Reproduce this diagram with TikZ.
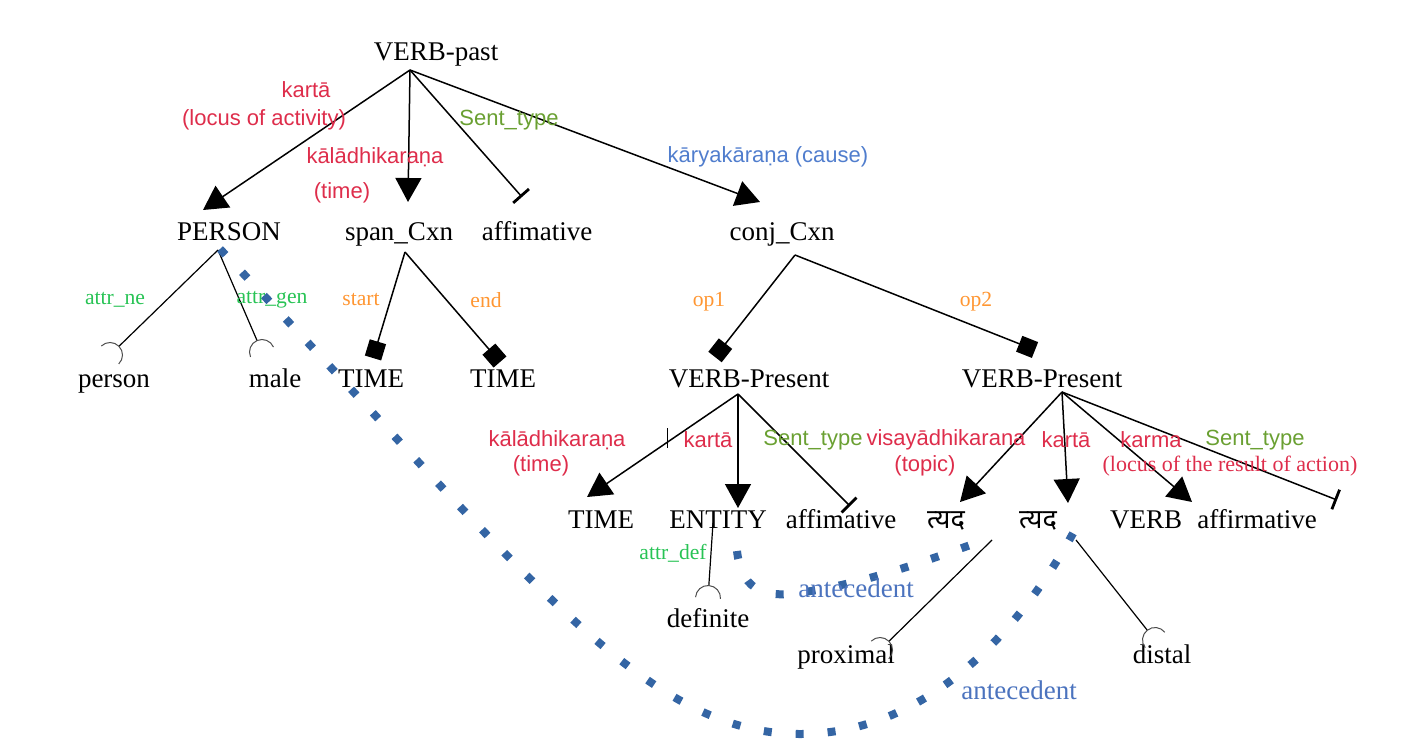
\documentclass[tikz,border=0pt]{standalone}
\usepackage{fontspec}
\setmainfont{Liberation Serif}
\setsansfont{Liberation Sans}
\newfontfamily\deva[Script=Devanagari]{Noto Sans}
\usetikzlibrary{arrows.meta,calc}
\definecolor{relred}{RGB}{222,45,75}
\definecolor{sentgreen}{RGB}{106,160,50}
\definecolor{attrgreen}{RGB}{40,195,85}
\definecolor{oporange}{RGB}{255,150,50}
\definecolor{causeblue}{RGB}{80,125,205}
\definecolor{antblue}{RGB}{75,115,190}
\definecolor{dotblue}{RGB}{52,101,164}
\tikzset{
	word/.style={font=\fontsize{13.5}{16}\selectfont, inner sep=0pt, anchor=base},
	rel/.style={font=\sffamily\fontsize{11}{13}\selectfont, inner sep=0pt, text=relred},
	relserif/.style={font=\fontsize{11}{13}\selectfont, inner sep=0pt, text=relred},
	senttype/.style={font=\sffamily\fontsize{11}{13}\selectfont, inner sep=0pt, text=sentgreen},
	cause/.style={font=\sffamily\fontsize{11}{13}\selectfont, inner sep=0pt, text=causeblue},
	attr/.style={font=\fontsize{10.8}{13}\selectfont, inner sep=0pt, text=attrgreen},
	oplabel/.style={font=\fontsize{10.8}{13}\selectfont, inner sep=0pt, text=oporange},
	antlabel/.style={font=\fontsize{13.5}{16}\selectfont, inner sep=0pt, text=antblue},
	link/.style={line width=0.75pt},
	arr/.style={link, -{Triangle[length=12pt,width=13pt]}},
	sq/.style={link, -{Square[length=8.5pt,width=8.5pt]}},
	tee/.style={link, -{Bar[width=10.5pt,line width=1.4pt]}},
	cup/.style={line width=0.6pt, -{Arc Barb[reversed,width=13pt,length=6.5pt,line width=0.5pt,color=black!70]}},
	coref/.style={dotblue, line width=4pt, dash pattern=on 4pt off 12pt}
}
\begin{document}
\begin{tikzpicture}[x=0.5pt, y=-0.5pt]
	\useasboundingbox (0,0) rectangle (1427,755);
	\foreach \name/\x/\y/\labl in {
		vpast/436/60/VERB-past,
		pers/229/240/PERSON, span/399/240/span\_Cxn, affa/537/240/affimative, conj/782/240/conj\_Cxn,
		persw/114/387/person, male/275/387/male, timea/371/387/TIME, timeb/503/387/TIME,
		vpresa/749/387/VERB-Present, vpresb/1042/387/VERB-Present,
		timec/601/528/TIME, entity/718/528/ENTITY, affb/841/528/affimative,
		tyada/946/528/{\deva त्यद}, tyadb/1038/528/{\deva त्यद}, verb/1146/528/VERB, affc/1257/528/affirmative,
		definite/708/627/definite, proximal/846/663/proximal, distal/1162/663/distal
	}
	{
		\node[word] (\name) at (\x,\y) {\labl};
	}
	\foreach \no/\sx/\sy/\nt/\ex/\ey in {
		vpast/-26/10/pers/-26/-30,
		vpast/-26/10/span/9/-38,
		vpast/-26/10/conj/-22/-38,
		vpresa/-11/7/timec/-14/-31,
		vpresa/-11/7/entity/20/-20,
		vpresb/20/5/tyada/14/-26,
		vpresb/20/5/tyadb/30/-25,
		vpresb/20/5/verb/46/-26
	}
	{
		\draw[arr] ($(\no.base)+(\sx,\sy)$) -- ($(\nt.base)+(\ex,\ey)$);
	}
	\foreach \no/\sx/\sy/\nt/\ex/\ey in {
		vpast/-26/10/affa/-15/-43,
		vpresa/-11/7/affb/9/-22,
		vpresb/20/5/affc/80/-28
	}
	{
		\draw[tee] ($(\no.base)+(\sx,\sy)$) -- ($(\nt.base)+(\ex,\ey)$);
	}
	\foreach \no/\sx/\sy/\nt/\ex/\ey in {
		span/6/12/timea/2/-29,
		span/6/12/timeb/-3/-25,
		conj/13/15/vpresa/-34/-30,
		conj/13/15/vpresb/-7/-37
	}
	{
		\draw[sq] ($(\no.base)+(\sx,\sy)$) -- ($(\nt.base)+(\ex,\ey)$);
	}
	\foreach \no/\sx/\sy/\nt/\ex/\ey in {
		pers/-11/10/persw/-4/-32,
		pers/-11/10/male/-13/-35,
		entity/-5/-5/definite/0/-29,
		tyada/46/12/proximal/34/-13,
		tyadb/38/12/distal/-7/-23
	}
	{
		\draw[cup] ($(\no.base)+(\sx,\sy)$) -- ($(\nt.base)+(\ex,\ey)$);
	}
	\path ($(vpresa.base)+(-11,7)$) -- ($(timec.base)+(-14,-31)$) coordinate[pos=0.47] (tick);
	\draw[line width=0.5pt] ($(tick)+(0,-14)$) -- ($(tick)+(0,6)$);
	\coordinate (dipa) at (800,734);
	\coordinate (dipb) at (805,592);
	\draw[coref] ($(pers.base)+(-9,9)$) .. controls (520,565) and (640,734) .. (dipa)
		.. controls (930,734) and (1025,625) .. ($(tyadb.base)+(40,-4)$);
	\draw[coref] ($(entity.base)+(19,23)$) .. controls (742,595) and (770,598) .. (dipb)
		.. controls (880,580) and (940,555) .. ($(tyada.base)+(42,11)$);
	\foreach \name/\x/\y/\labl in {
		karta/306/90/kartā, kala/375/157/kālādhikaraṇa, kalb/557/440/kālādhikaraṇa,
		kartb/708/440/kartā, visa/946/440/visayādhikarana, kartc/1066/440/kartā, karma/1151/440/karma,
		locusa/264/120/{(locus of activity)}, timel/342/193/(time), timem/541/466/(time), topic/925/466/(topic)
	}
	{
		\node[rel] (\name) at (\x,\y) {\labl};
	}
	\node[relserif] (locusb) at (1230,466) {(locus of the result of action)};
	\foreach \name/\x/\y in {senta/509/120, sentb/813/440, sentc/1255/440}
	{
		\node[senttype] (\name) at (\x,\y) {Sent\_type};
	}
	\node[cause] (causel) at (768,157) {kāryakāraṇa (cause)};
	\foreach \name/\x/\y/\labl in {attrne/115/300/attr\_ne, attrgen/272/300/attr\_gen, attrdef/673/553/attr\_def}
	{
		\node[attr] (\name) at (\x,\y) {\labl};
	}
	\foreach \name/\x/\y/\labl in {lstart/361/300/start, lend/486/300/end, opa/709/302/op1, opb/976/302/op2}
	{
		\node[oplabel] (\name) at (\x,\y) {\labl};
	}
	\node[antlabel] (anta) at (856,588) {antecedent};
	\node[antlabel] (antb) at (1019,690) {antecedent};
\end{tikzpicture}
\end{document}
